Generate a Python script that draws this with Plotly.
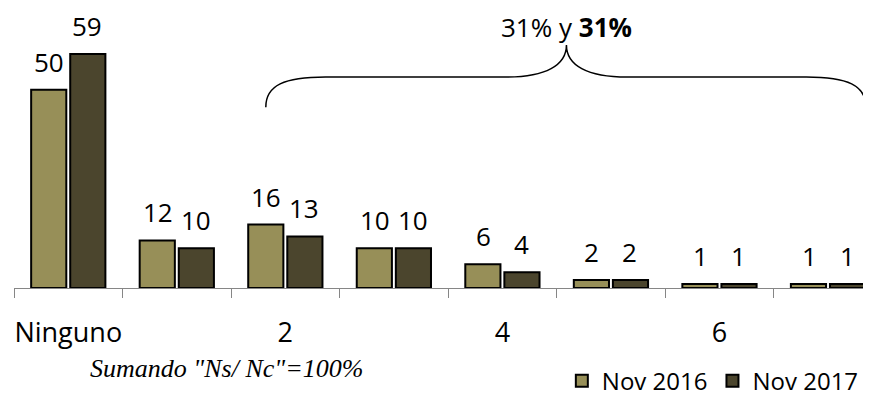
import plotly.graph_objects as go

# Data
categories = ["Ninguno", "1", "2", "3", "4", "5", "6", "7"]
tick_labels = ["Ninguno", "", "2", "", "4", "", "6", ""]
nov_2016 = [50, 12, 16, 10, 6, 2, 1, 1]
nov_2017 = [59, 10, 13, 10, 4, 2, 1, 1]
series_names = ["Nov 2016", "Nov 2017"]
colors = ["#978F58", "#4B452D"]
brace_text = "31% y <b>31%</b>"
note_text = 'Sumando "Ns/ Nc"=100%'

font_main = "Open Sans"

fig = go.Figure()
for name, vals, col in zip(series_names, [nov_2016, nov_2017], colors):
    fig.add_trace(go.Bar(
        x=categories, y=vals, name=name,
        marker=dict(color=col, line=dict(color="black", width=2)),
    ))

# value labels over the bars
for vals, shift in [(nov_2016, -19), (nov_2017, 19)]:
    for c, v in zip(categories, vals):
        fig.add_annotation(x=c, y=v, text=str(v), showarrow=False,
                           xshift=shift, yshift=8, yanchor="bottom",
                           font=dict(size=26, color="black", family=font_main))

# curly brace over categories 2..7
xl, xr, xm = 1.82, 7.35, 4.59
yb, yh, yp = 45.6, 53.2, 61.3
path = (f"M {xl},{yb} C {xl},{yb+5.5} {xl+0.17},{yh} {xl+0.55},{yh} "
        f"L {xm-0.56},{yh} C {xm-0.19},{yh} {xm},{yh+3} {xm},{yp} "
        f"C {xm},{yh+3} {xm+0.19},{yh} {xm+0.56},{yh} "
        f"L {xr-0.55},{yh} C {xr-0.17},{yh} {xr},{yb+5.5} {xr},{yb}")
fig.add_shape(type="path", path=path, xref="x", yref="y",
              line=dict(color="black", width=1.5))
fig.add_annotation(x=xm, y=yp + 1, text=brace_text, showarrow=False,
                   yanchor="bottom", yshift=-6,
                   font=dict(size=26, color="black", family=font_main))

fig.add_annotation(x=0.249, y=-0.288, xref="paper", yref="paper",
                   xanchor="center", yanchor="middle",
                   text="<i>" + note_text + "</i>", showarrow=False,
                   font=dict(size=26, color="black", family="Liberation Serif"))

# page body has an 8px margin, so margins are shifted by 8px
fig.update_layout(
    width=863, height=398,
    margin=dict(l=6, r=5, t=2, b=118, autoexpand=False),
    plot_bgcolor="white", paper_bgcolor="white",
    barmode="group", bargap=0.28, bargroupgap=0.1,
    font=dict(family=font_main, size=26, color="black"),
    legend=dict(orientation="h", x=0.643, xanchor="left", y=-0.335, yanchor="middle",
                font=dict(size=24), itemwidth=30, traceorder="normal"),
    showlegend=True,
)
fig.update_xaxes(
    type="category", range=[-0.5, 7.35],
    tickmode="array", tickvals=categories, ticktext=tick_labels,
    tickson="boundaries", ticks="outside", ticklen=9, tickcolor="#868686",
    showline=True, linecolor="#868686", linewidth=1, tickangle=0,
    showgrid=False, ticklabelstandoff=21, automargin=False,
    tickfont=dict(size=27, family=font_main),
)
fig.update_yaxes(range=[0, 70.1], visible=False, showgrid=False)

fig.write_html("out.html")
